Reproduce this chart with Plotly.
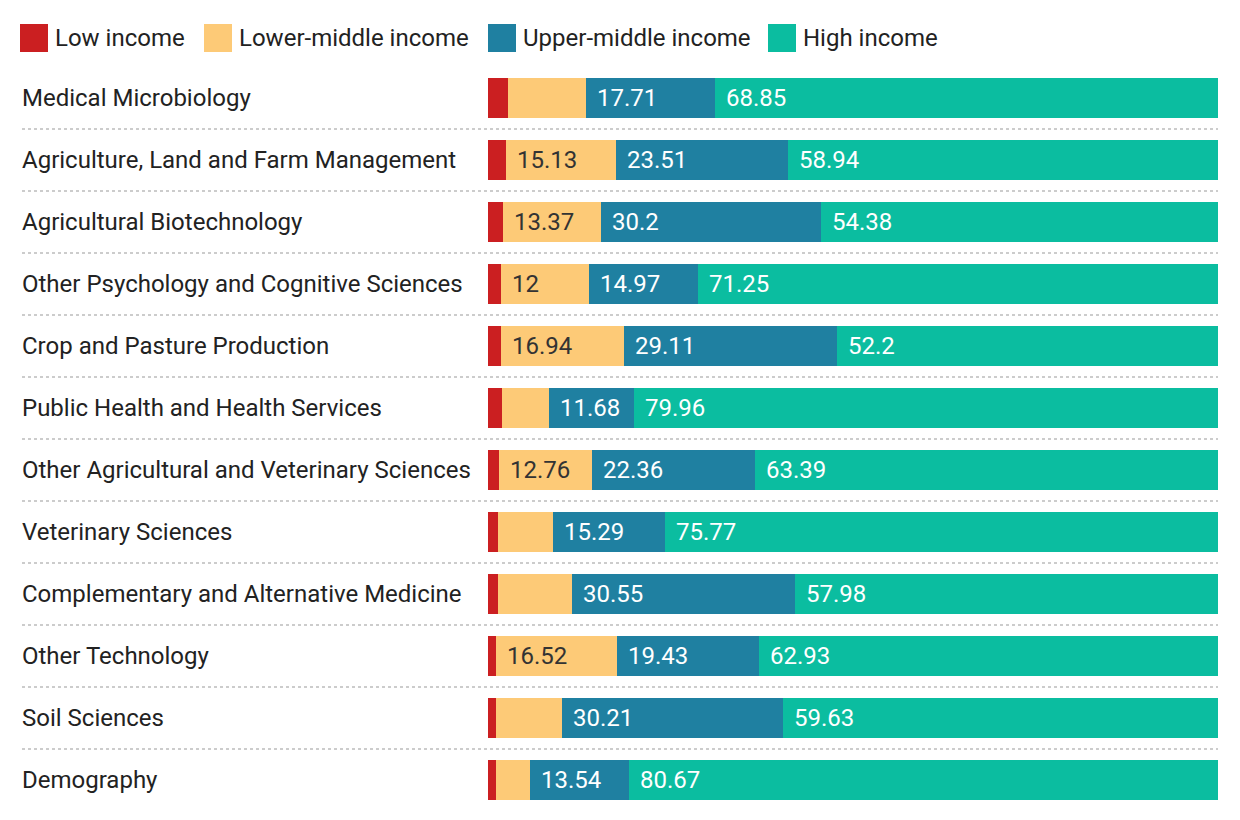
import plotly.graph_objects as go

categories = [
    "Medical Microbiology",
    "Agriculture, Land and Farm Management",
    "Agricultural Biotechnology",
    "Other Psychology and Cognitive Sciences",
    "Crop and Pasture Production",
    "Public Health and Health Services",
    "Other Agricultural and Veterinary Sciences",
    "Veterinary Sciences",
    "Complementary and Alternative Medicine",
    "Other Technology",
    "Soil Sciences",
    "Demography",
]
series_names = ["Low income", "Lower-middle income", "Upper-middle income", "High income"]
low_income = [2.74, 2.42, 2.05, 1.78, 1.75, 1.92, 1.49, 1.37, 1.37, 1.12, 1.10, 1.05]
lower_middle = [10.70, 15.13, 13.37, 12, 16.94, 6.44, 12.76, 7.57, 10.10, 16.52, 9.06, 4.74]
upper_middle = [17.71, 23.51, 30.2, 14.97, 29.11, 11.68, 22.36, 15.29, 30.55, 19.43, 30.21, 13.54]
high_income = [68.85, 58.94, 54.38, 71.25, 52.2, 79.96, 63.39, 75.77, 57.98, 62.93, 59.63, 80.67]

colors = ["#CB1F21", "#FDCA77", "#1F80A1", "#0BBDA0"]
text_colors = ["#ffffff", "#333333", "#ffffff", "#ffffff"]
all_series = [low_income, lower_middle, upper_middle, high_income]

# page body has an 8px margin, so the figure is offset by 8px
OFF = 8
W, H = 1224, 804
ML = 488 - OFF
PW = 730
MR = W - ML - PW
MT = 67 - OFF
PH = 744
MB = H - MT - PH
FONT = "Roboto"


def px2x(px):
    return (px - OFF - ML) / PW


def py2y(py):
    return (MT + PH - (py - OFF)) / PH


fig = go.Figure()
for name, vals, col in zip(series_names, all_series, colors):
    fig.add_trace(go.Bar(
        y=categories, x=vals, name=name, orientation="h",
        marker=dict(color=col, line=dict(width=0)),
        hoverinfo="x+name", showlegend=False,
    ))

annotations = []
shapes = []

# value labels inside segments (left aligned)
for i, cat in enumerate(categories):
    start = 0.0
    for s, vals in enumerate(all_series):
        v = vals[i]
        if v > 11:
            annotations.append(dict(
                x=start, y=cat, xref="x", yref="y", text=f"{v:g}",
                showarrow=False, xanchor="left", yanchor="middle", xshift=9,
                font=dict(family=FONT, size=24, color=text_colors[s]),
            ))
        start += v

# category labels
for i, cat in enumerate(categories):
    annotations.append(dict(
        x=px2x(20), y=cat, xref="paper", yref="y", text=cat,
        showarrow=False, xanchor="left", yanchor="middle",
        font=dict(family=FONT, size=24, color="#222222"),
    ))

# dotted separators
for i in range(len(categories) - 1):
    shapes.append(dict(
        type="line", xref="paper", yref="y", x0=px2x(22), x1=1,
        y0=i + 0.5, y1=i + 0.5,
        line=dict(color="#cccccc", width=2, dash="dot"),
    ))

# manual legend
legend_x = [20, 204, 488, 768]
for name, col, lx in zip(series_names, colors, legend_x):
    shapes.append(dict(
        type="rect", xref="paper", yref="paper",
        x0=px2x(lx), x1=px2x(lx + 28), y0=py2y(52), y1=py2y(24),
        fillcolor=col, line=dict(width=0),
    ))
    annotations.append(dict(
        x=px2x(lx + 33), y=py2y(38), xref="paper", yref="paper", text=name,
        showarrow=False, xanchor="left", yanchor="middle",
        font=dict(family=FONT, size=24, color="#222222"),
    ))

fig.update_layout(
    width=W, height=H,
    margin=dict(l=ML, r=MR, t=MT, b=MB),
    barmode="stack", bargap=0.355,
    plot_bgcolor="white", paper_bgcolor="white",
    xaxis=dict(range=[0, 100], visible=False, fixedrange=True),
    yaxis=dict(range=[len(categories) - 0.5, -0.5], visible=False,
               categoryorder="array", categoryarray=categories, fixedrange=True),
    annotations=annotations, shapes=shapes,
    font=dict(family=FONT),
    showlegend=False,
)

fig.write_html("out.html", config={"displayModeBar": False})
